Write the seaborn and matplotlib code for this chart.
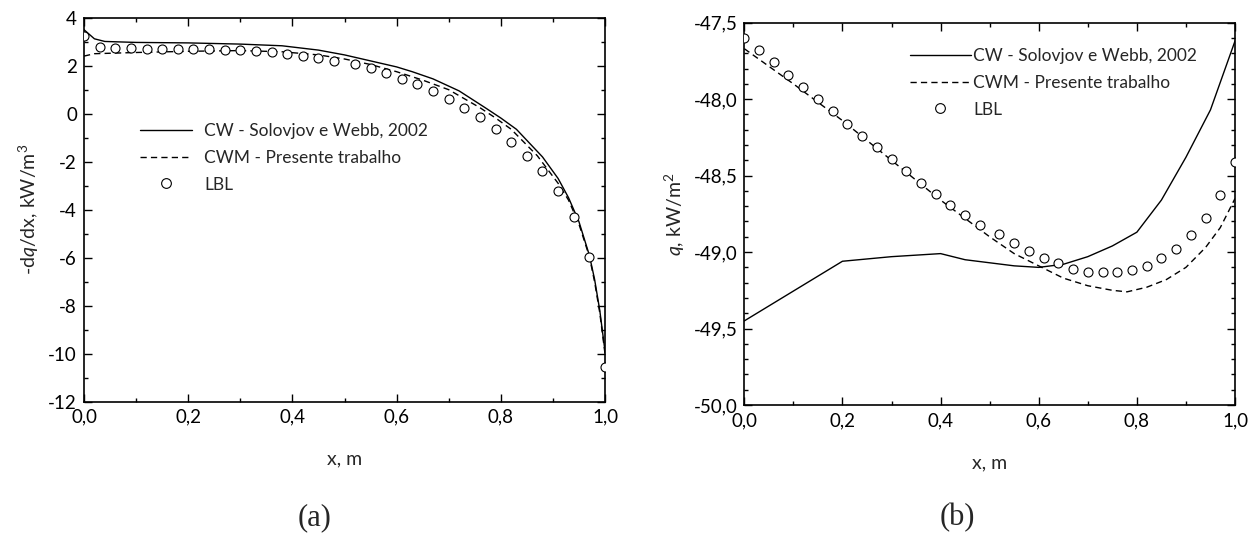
import numpy as np
import pandas as pd
import matplotlib
matplotlib.use("Agg")
import matplotlib.pyplot as plt
import seaborn as sns
from matplotlib.lines import Line2D
from matplotlib.ticker import MultipleLocator, FuncFormatter

# ---- data ----
# LBL points (same x grid in both panels)
x_lbl = [0.00, 0.03, 0.06, 0.09, 0.12, 0.15, 0.18, 0.21, 0.24, 0.27, 0.30, 0.33,
         0.36, 0.39, 0.42, 0.45, 0.48, 0.52, 0.55, 0.58, 0.61, 0.64, 0.67, 0.70,
         0.73, 0.76, 0.79, 0.82, 0.85, 0.88, 0.91, 0.94, 0.97, 1.00]

# (a) -dq/dx
lbl_a = [3.25, 2.76, 2.72, 2.72, 2.69, 2.69, 2.68, 2.68, 2.69, 2.67, 2.65, 2.62,
         2.58, 2.49, 2.39, 2.32, 2.21, 2.07, 1.89, 1.69, 1.44, 1.24, 0.96, 0.61,
         0.24, -0.15, -0.64, -1.19, -1.75, -2.40, -3.24, -4.29, -5.96, -10.57]
x_cw_a = [0.00, 0.02, 0.04, 0.10, 0.20, 0.30, 0.38, 0.45, 0.50, 0.55, 0.60, 0.63,
          0.67, 0.72, 0.77, 0.80, 0.83, 0.88, 0.91, 0.93, 0.95, 0.97, 0.98, 0.99, 1.00]
cw_a = [3.50, 3.12, 3.01, 2.97, 2.95, 2.90, 2.83, 2.65, 2.45, 2.20, 1.95, 1.75,
        1.45, 0.95, 0.25, -0.18, -0.65, -1.80, -2.70, -3.50, -4.50, -5.90, -6.90,
        -8.20, -9.90]
x_cwm_a = [0.00, 0.02, 0.10, 0.20, 0.30, 0.38, 0.45, 0.50, 0.55, 0.60, 0.65, 0.70,
           0.76, 0.79, 0.82, 0.87, 0.91, 0.93, 0.95, 0.97, 0.98, 0.99, 1.00]
cwm_a = [2.40, 2.50, 2.55, 2.60, 2.63, 2.58, 2.45, 2.28, 2.05, 1.75, 1.40, 1.00,
         0.25, -0.18, -0.65, -1.75, -2.90, -3.60, -4.60, -5.95, -7.00, -8.30, -10.00]

# (b) q
lbl_b = [-47.60, -47.68, -47.76, -47.84, -47.92, -48.00, -48.08, -48.16, -48.24,
         -48.31, -48.39, -48.47, -48.55, -48.62, -48.69, -48.76, -48.82, -48.88,
         -48.94, -48.99, -49.04, -49.07, -49.11, -49.13, -49.13, -49.13, -49.12,
         -49.09, -49.04, -48.98, -48.89, -48.78, -48.63, -48.41]
x_cw_b = [0.00, 0.20, 0.30, 0.40, 0.45, 0.50, 0.55, 0.60, 0.65, 0.70, 0.75, 0.80,
          0.85, 0.90, 0.95, 1.00]
cw_b = [-49.45, -49.06, -49.03, -49.01, -49.05, -49.07, -49.09, -49.10, -49.08,
        -49.03, -48.96, -48.87, -48.66, -48.38, -48.07, -47.62]
x_cwm_b = [0.00, 0.10, 0.20, 0.30, 0.40, 0.50, 0.55, 0.60, 0.65, 0.70, 0.75, 0.78,
           0.82, 0.86, 0.90, 0.94, 0.97, 1.00]
cwm_b = [-47.67, -47.90, -48.14, -48.40, -48.66, -48.90, -49.01, -49.09, -49.17,
         -49.22, -49.25, -49.26, -49.23, -49.18, -49.10, -48.97, -48.84, -48.65]

labels = ["CW - Solovjov e Webb, 2002", "CWM - Presente trabalho", "LBL"]

sns.set_style("ticks")
plt.rcParams['font.family'] = ['Lato', 'DejaVu Sans']
plt.rcParams['mathtext.fontset'] = 'custom'
plt.rcParams['mathtext.rm'] = 'Lato'
plt.rcParams['mathtext.it'] = 'Lato:italic'

W, H = 1258, 533
fig = plt.figure(figsize=(W / 100, H / 100), dpi=100)
ax1 = fig.add_axes([84 / W, 1 - 401.7 / H, 521 / W, 384 / H])
ax2 = fig.add_axes([744.3 / W, 1 - 405 / H, 490.7 / W, 382.3 / H])

dash = (0, (4.5, 3))


def draw(ax, xs, ys, xd, yd, xl, yl):
    sns.lineplot(x=xs, y=ys, ax=ax, color='black', lw=1.0, estimator=None, sort=False)
    sns.lineplot(x=xd, y=yd, ax=ax, color='black', lw=1.0, linestyle=dash,
                 estimator=None, sort=False)
    sns.scatterplot(x=xl, y=yl, ax=ax, marker='o', s=42, facecolor='white',
                    edgecolor='black', linewidth=0.8, zorder=3)


draw(ax1, x_cw_a, cw_a, x_cwm_a, cwm_a, x_lbl, lbl_a)
draw(ax2, x_cw_b, cw_b, x_cwm_b, cwm_b, x_lbl, lbl_b)

comma1 = FuncFormatter(lambda v, p: f"{v:.1f}".replace('.', ','))
for ax in (ax1, ax2):
    ax.set_xlim(0, 1)
    ax.xaxis.set_major_locator(MultipleLocator(0.2))
    ax.xaxis.set_minor_locator(MultipleLocator(0.1))
    ax.xaxis.set_major_formatter(comma1)
    ax.tick_params(which='both', direction='in', top=True, right=True,
                   colors='black', labelsize=13.5, pad=5, width=1.0)
    ax.tick_params(which='major', length=6)
    ax.tick_params(which='minor', length=3)
    for s in ax.spines.values():
        s.set_linewidth(1.2)
        s.set_color('black')
    ax.set_xlabel("x, m", fontsize=14, labelpad=18)

ax1.set_ylim(-12, 4)
ax1.yaxis.set_major_locator(MultipleLocator(2))
ax1.yaxis.set_minor_locator(MultipleLocator(1))
ax1.yaxis.set_major_formatter(FuncFormatter(lambda v, p: f"{v:.0f}"))
ax1.set_ylabel(r"-d$\mathit{q}$/dx, kW/m$^3$", fontsize=14, labelpad=5)

ax2.set_ylim(-50, -47.5)
ax2.yaxis.set_major_locator(MultipleLocator(0.5))
ax2.yaxis.set_minor_locator(MultipleLocator(0.1))
ax2.yaxis.set_major_formatter(comma1)
ax2.set_ylabel(r"$\mathit{q}$, kW/m$^2$", fontsize=14, labelpad=5)

handles = [Line2D([], [], color='black', lw=1.0),
           Line2D([], [], color='black', lw=1.0, linestyle=dash),
           Line2D([], [], color='black', lw=0, marker='o', markersize=7,
                  markerfacecolor='white', markeredgewidth=0.8)]

ax1.legend(handles, labels, loc='upper left', frameon=False, fontsize=12.5,
           bbox_to_anchor=(140 / W, 1 - 123 / H), bbox_transform=fig.transFigure,
           borderpad=0, borderaxespad=0, handlelength=3.0, handletextpad=0.7,
           labelspacing=0.62)
ax2.legend(handles, labels, loc='upper left', frameon=False, fontsize=12.5,
           bbox_to_anchor=(910 / W, 1 - 48 / H), bbox_transform=fig.transFigure,
           borderpad=0, borderaxespad=0, handlelength=3.5, handletextpad=0.15,
           labelspacing=0.62)

fig.text(315 / W, 1 - 518 / H, "(a)", ha='center', va='center', fontsize=22,
         family='Liberation Serif')
fig.text(957 / W, 1 - 518 / H, "(b)", ha='center', va='center', fontsize=22,
         family='Liberation Serif')

fig.savefig("out.png", dpi=100)
